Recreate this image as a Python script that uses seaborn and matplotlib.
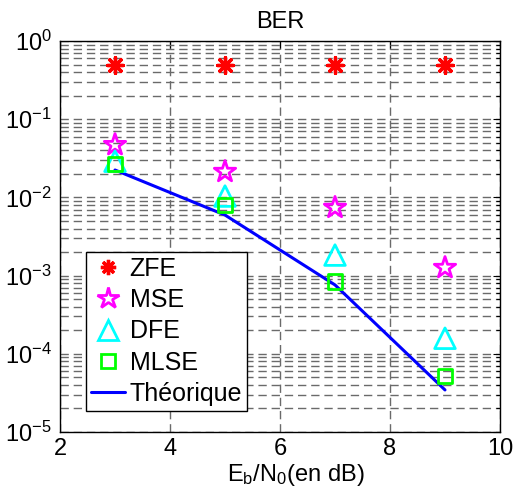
import numpy as np
import pandas as pd
import matplotlib
matplotlib.use("Agg")
import matplotlib.pyplot as plt
import seaborn as sns
from matplotlib.ticker import LogLocator, NullFormatter, FixedLocator
from matplotlib.lines import Line2D

ebn0 = [3, 5, 7, 9]
ber_zfe = [0.49, 0.49, 0.49, 0.49]
ber_mse = [0.047, 0.0213, 0.0074, 0.00126]
ber_dfe = [0.029, 0.0104, 0.00183, 0.000158]
ber_mlse = [0.0265, 0.0080, 0.00084, 0.0000525]
ber_theo = [0.0224, 0.00595, 0.00076, 0.0000345]
x_ticks = [2, 4, 6, 8, 10]
legend_labels = ['ZFE', 'MSE', 'DFE', 'MLSE', 'Théorique']

sns.set_style("white")
plt.rcParams['font.family'] = ['Liberation Sans', 'DejaVu Sans']
plt.rcParams['mathtext.fontset'] = 'custom'
plt.rcParams['mathtext.rm'] = 'Liberation Sans'
plt.rcParams['mathtext.it'] = 'Liberation Sans'
plt.rcParams['text.color'] = 'black'
plt.rcParams['axes.labelcolor'] = 'black'
plt.rcParams['xtick.color'] = 'black'
plt.rcParams['ytick.color'] = 'black'

fig = plt.figure(figsize=(5.17, 4.88), dpi=100)
ax = fig.add_axes([60/517, 1 - 432/488, 440/517, 391/488])

ax.set_yscale('log')
ax.set_xlim(2, 10)
ax.set_ylim(1e-5, 1)

df = pd.DataFrame({'x': ebn0, 'zfe': ber_zfe, 'mse': ber_mse, 'dfe': ber_dfe,
                   'mlse': ber_mlse, 'theo': ber_theo})

sns.lineplot(data=df, x='x', y='theo', ax=ax, color='#0000ff', lw=2.2, zorder=3)
sns.scatterplot(data=df, x='x', y='zfe', ax=ax, marker=(8, 2, 0), s=130,
                color='#ff0000', edgecolor='#ff0000', linewidth=2.4, zorder=4)
sns.scatterplot(data=df, x='x', y='mse', ax=ax, marker='*', s=260,
                facecolor='none', edgecolor='#ff00ff', linewidth=2.0, zorder=4)
sns.scatterplot(data=df, x='x', y='dfe', ax=ax, marker='^', s=220,
                facecolor='none', edgecolor='#00ffff', linewidth=2.0, zorder=4)
sns.scatterplot(data=df, x='x', y='mlse', ax=ax, marker='s', s=105,
                facecolor='none', edgecolor='#00ff00', linewidth=2.0, zorder=4)

ax.xaxis.set_major_locator(FixedLocator(x_ticks))
ax.set_xticklabels([str(t) for t in x_ticks])
ax.yaxis.set_major_locator(LogLocator(base=10, numticks=10))
ax.yaxis.set_minor_locator(LogLocator(base=10, subs=np.arange(2, 10), numticks=20))
ax.yaxis.set_minor_formatter(NullFormatter())

grid_kw = dict(color='#6a6a6a', linestyle=(0, (6, 3.5)), linewidth=1.0)
ax.grid(True, which='major', axis='both', **grid_kw)
ax.grid(True, which='minor', axis='y', **grid_kw)
ax.set_axisbelow(True)

ax.tick_params(which='both', direction='in', top=True, right=True, labelsize=17,
               color='black', labelcolor='black')
ax.tick_params(which='major', length=5, width=0.8)
ax.tick_params(which='minor', length=3, width=0.8)
ax.tick_params(axis='x', pad=4)
ax.tick_params(axis='y', pad=6)
for s in ax.spines.values():
    s.set_color('black')
    s.set_linewidth(1.0)

ax.set_title('BER', fontsize=17, pad=9, color='black')
ax.set_xlabel(r'$\mathregular{E_b/N_0}$(en dB)', fontsize=17, color='black')
ax.xaxis.set_label_coords(0.535, -0.078)
ax.set_ylabel('')

handles = [
    Line2D([], [], linestyle='none', marker=(8, 2, 0), markersize=11, color='#ff0000', markeredgewidth=2.4),
    Line2D([], [], linestyle='none', marker='*', markersize=16, markerfacecolor='none', markeredgecolor='#ff00ff', markeredgewidth=2.0),
    Line2D([], [], linestyle='none', marker='^', markersize=15, markerfacecolor='none', markeredgecolor='#00ffff', markeredgewidth=2.0),
    Line2D([], [], linestyle='none', marker='s', markersize=10, markerfacecolor='none', markeredgecolor='#00ff00', markeredgewidth=2.0),
    Line2D([], [], color='#0000ff', lw=2.2),
]
leg = ax.legend(handles, legend_labels, loc='lower left', bbox_to_anchor=(0.059, 0.054),
                fontsize=18, frameon=True, fancybox=False, edgecolor='black',
                framealpha=1, handlelength=1.35, handletextpad=0.2,
                borderpad=0.2, labelspacing=0.29, borderaxespad=0)
leg.get_frame().set_linewidth(1.0)
for t in leg.get_texts():
    t.set_color('black')

fig.savefig('out.png', dpi=100)
